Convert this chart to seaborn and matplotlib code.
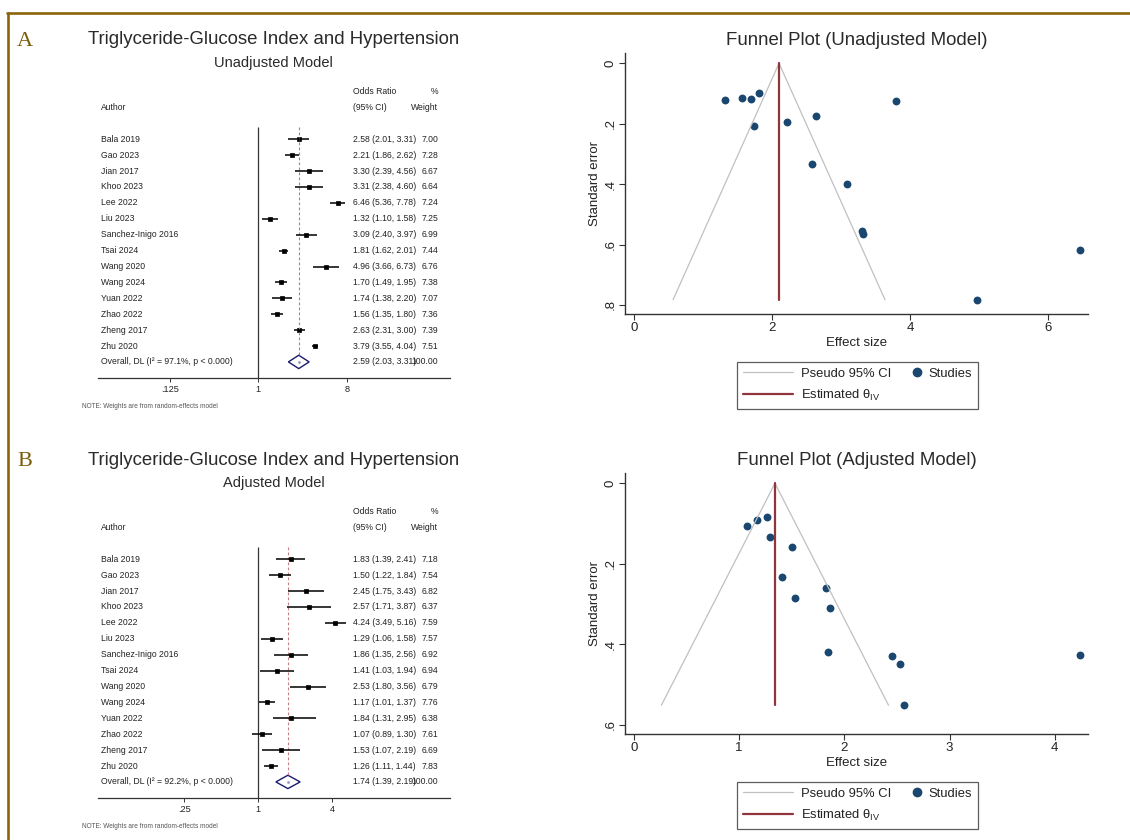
import matplotlib
matplotlib.use("Agg")
import matplotlib.pyplot as plt
import matplotlib.transforms as mtransforms
from matplotlib.lines import Line2D
from matplotlib.legend_handler import HandlerLine2D
import seaborn as sns
import pandas as pd

# study data
authors = ["Bala 2019", "Gao 2023", "Jian 2017", "Khoo 2023", "Lee 2022", "Liu 2023",
           "Sanchez-Inigo 2016", "Tsai 2024", "Wang 2020", "Wang 2024", "Yuan 2022",
           "Zhao 2022", "Zheng 2017", "Zhu 2020"]

unadj_or = [2.58, 2.21, 3.30, 3.31, 6.46, 1.32, 3.09, 1.81, 4.96, 1.70, 1.74, 1.56, 2.63, 3.79]
unadj_lo = [2.01, 1.86, 2.39, 2.38, 5.36, 1.10, 2.40, 1.62, 3.66, 1.49, 1.38, 1.35, 2.31, 3.55]
unadj_hi = [3.31, 2.62, 4.56, 4.60, 7.78, 1.58, 3.97, 2.01, 6.73, 1.95, 2.20, 1.80, 3.00, 4.04]
unadj_wt = [7.00, 7.28, 6.67, 6.64, 7.24, 7.25, 6.99, 7.44, 6.76, 7.38, 7.07, 7.36, 7.39, 7.51]
unadj_se = [0.332, 0.194, 0.554, 0.566, 0.617, 0.122, 0.401, 0.099, 0.783, 0.117, 0.209, 0.115, 0.176, 0.125]
unadj_overall = [2.59, 2.03, 3.31]
unadj_i2 = 97.1
unadj_theta_iv = 2.10

adj_or = [1.83, 1.50, 2.45, 2.57, 4.24, 1.29, 1.86, 1.41, 2.53, 1.17, 1.84, 1.07, 1.53, 1.26]
adj_lo = [1.39, 1.22, 1.75, 1.71, 3.49, 1.06, 1.35, 1.03, 1.80, 1.01, 1.31, 0.89, 1.07, 1.11]
adj_hi = [2.41, 1.84, 3.43, 3.87, 5.16, 1.58, 2.56, 1.94, 3.56, 1.37, 2.95, 1.30, 2.19, 1.44]
adj_wt = [7.18, 7.54, 6.82, 6.37, 7.59, 7.57, 6.92, 6.94, 6.79, 7.76, 6.38, 7.61, 6.69, 7.83]
adj_se = [0.260, 0.158, 0.429, 0.551, 0.426, 0.133, 0.309, 0.232, 0.449, 0.092, 0.418, 0.105, 0.286, 0.084]
adj_overall = [1.74, 1.39, 2.19]
adj_i2 = 92.2
adj_theta_iv = 1.34

overall_wt = "100.00"

forest_ticks_a = [0.125, 1, 8]
forest_ticklabels_a = [".125", "1", "8"]
forest_ticks_b = [0.25, 1, 4]
forest_ticklabels_b = [".25", "1", "4"]

sns.set_theme(style="white")
plt.rcParams['font.family'] = ['Liberation Sans', 'DejaVu Sans']
plt.rcParams['mathtext.fontset'] = 'custom'
plt.rcParams['mathtext.rm'] = 'Liberation Sans'
plt.rcParams['mathtext.it'] = 'Liberation Sans:italic'

W, H = 1130, 840
fig = plt.figure(figsize=(W / 100, H / 100), dpi=100)
fig.patch.set_facecolor("white")

GOLD = "#8B6508"
TXT = "#222222"
NAVY = "#1a476f"
MAROON = "#90353b"


class RightMarkerHandler(HandlerLine2D):
    # put the marker near the right end of the handle box (Stata style legend)
    def get_xdata(self, legend, xdescent, ydescent, width, height, fontsize):
        m = -xdescent + width - 0.3 * fontsize
        return [m - 1, m + 1], [m]


def px_axes(l, t, r, b):
    return fig.add_axes([l / W, 1 - b / H, (r - l) / W, (b - t) / H])


def ftext(x, y, s, **kw):
    fig.text(x / W, 1 - y / H, s, **kw)


def draw_forest(top, title, subtitle, ors, los, his, wts, overall, i2,
                ticks, ticklabels, log2_lim, dash_color):
    ax = px_axes(97.7, top + 83, 450, top + 378.3)
    ax.set_xscale("log", base=2)
    ax.patch.set_alpha(0)
    for s in ["top", "left", "right"]:
        ax.spines[s].set_visible(False)
    ax.spines["bottom"].set_color("#333333")
    ax.spines["bottom"].set_linewidth(0.9)

    rows = list(range(len(authors)))
    df = pd.DataFrame({"row": rows, "or": ors, "lo": los, "hi": his})

    # null line and overall dashed line
    ax.vlines(1, -0.79, 15.03, color="#333333", lw=0.9)
    ax.vlines(overall[0], -0.79, len(rows) - 0.42, color=dash_color, lw=0.8,
              linestyles=(0, (2.5, 2)))

    ax.hlines(df["row"], df["lo"], df["hi"], color="black", lw=1.1)
    sns.scatterplot(data=df, x="or", y="row", ax=ax, marker="s", s=8, color="black",
                    edgecolor="black", linewidth=0.5, legend=False)
    ax.set_xlabel("")
    ax.set_ylabel("")

    # overall diamond
    yo = len(rows)
    ax.fill([overall[1], overall[0], overall[2], overall[0], overall[1]],
            [yo, yo - 0.42, yo, yo + 0.42, yo], facecolor="white", edgecolor="#1a1a6e", lw=1.0)
    ax.plot([overall[0]], [yo], marker="o", ms=1.0, color="#9999bb")

    ax.set_xlim(2 ** log2_lim[0], 2 ** log2_lim[1])
    ax.set_ylim(15.03, -3.54)
    ax.set_yticks([])
    ax.set_xticks(ticks)
    ax.set_xticklabels(ticklabels)
    ax.minorticks_off()
    ax.tick_params(axis="x", which="both", bottom=True, direction="out", length=3,
                   width=0.7, color="#333333", labelsize=6.6, labelcolor=TXT, pad=2)

    tr = mtransforms.blended_transform_factory(ax.transAxes, ax.transData)
    fs = 6.2
    ax.text(0.0085, -2, "Author", transform=tr, fontsize=fs, color=TXT, va="center")
    ax.text(0.7255, -3, "Odds Ratio", transform=tr, fontsize=fs, color=TXT, va="center")
    ax.text(0.7255, -2, "(95% CI)", transform=tr, fontsize=fs, color=TXT, va="center")
    ax.text(0.966, -3, "%", transform=tr, fontsize=fs, color=TXT, va="center", ha="right")
    ax.text(0.966, -2, "Weight", transform=tr, fontsize=fs, color=TXT, va="center", ha="right")
    for i in rows:
        ax.text(0.0085, i, authors[i], transform=tr, fontsize=fs, color=TXT, va="center")
        ax.text(0.7255, i, f"{ors[i]:.2f} ({los[i]:.2f}, {his[i]:.2f})", transform=tr,
                fontsize=fs, color=TXT, va="center")
        ax.text(0.966, i, f"{wts[i]:.2f}", transform=tr, fontsize=fs, color=TXT,
                va="center", ha="right")
    ax.text(0.0085, yo, f"Overall, DL (I\u00b2 = {i2:.1f}%, p < 0.000)", transform=tr,
            fontsize=fs, color=TXT, va="center")
    ax.text(0.7255, yo, f"{overall[0]:.2f} ({overall[1]:.2f}, {overall[2]:.2f})", transform=tr,
            fontsize=fs, color=TXT, va="center")
    ax.text(0.966, yo, overall_wt, transform=tr,
            fontsize=fs, color=TXT, va="center", ha="right")

    ftext(273.8, top + 40, title, fontsize=13.4, color="#2a2a2a", ha="center", va="center")
    ftext(273.8, top + 63.3, subtitle, fontsize=10.5, color="#2a2a2a", ha="center", va="center")
    ftext(81.7, top + 406, "NOTE: Weights are from random-effects model", fontsize=4.7,
          color="#555555", ha="left", va="center")
    return ax


def draw_funnel(top, title, ors, ses, theta, xlim, ylim, yticks, yticklabels, xticks):
    ax = px_axes(625, top + 53.3, 1088, top + 314)
    semax = max(ses)
    ci_line, = ax.plot([theta - 1.96 * semax, theta, theta + 1.96 * semax], [semax, 0, semax],
                       color="#c0c0c0", lw=0.9)
    est_line, = ax.plot([theta, theta], [0, semax], color=MAROON, lw=1.6)
    df = pd.DataFrame({"es": ors, "se": ses})
    sns.scatterplot(data=df, x="es", y="se", ax=ax, color=NAVY, s=32, edgecolor=NAVY,
                    linewidth=0, legend=False)
    ax.set_xlim(*xlim)
    ax.set_ylim(*ylim)
    for s in ["top", "right"]:
        ax.spines[s].set_visible(False)
    for s in ["left", "bottom"]:
        ax.spines[s].set_color("#333333")
        ax.spines[s].set_linewidth(1.0)
    ax.set_xticks(xticks)
    ax.set_xticklabels([str(t) for t in xticks])
    ax.set_yticks(yticks)
    ax.set_yticklabels(yticklabels, rotation=90, va="center")
    ax.tick_params(axis="both", direction="out", length=4, width=0.8, color="#333333",
                   labelsize=9.5, labelcolor=TXT, left=True, bottom=True)
    ax.tick_params(axis="x", pad=2)
    ax.tick_params(axis="y", pad=2)
    ax.set_xlabel("Effect size", fontsize=9.5, color=TXT)
    ax.set_ylabel("Standard error", fontsize=9.5, color=TXT)
    ax.xaxis.set_label_coords(0.5, -0.088)
    ax.yaxis.set_label_coords(-0.052, 0.5)
    ax.set_title(title, fontsize=13.4, color="#2a2a2a", pad=6)

    dot = Line2D([], [], ls="none", marker="o", ms=6, color=NAVY)
    leg = fig.legend([ci_line, est_line, dot],
                     ["Pseudo 95% CI", "Estimated \u03b8$_{\\mathrm{IV}}$", "Studies"],
                     handler_map={dot: RightMarkerHandler(numpoints=1)},
                     loc="upper center", bbox_to_anchor=(857.4 / W, 1 - (top + 361.7) / H),
                     borderaxespad=0, ncol=2, fontsize=9.4, frameon=True, fancybox=False,
                     edgecolor="#333333", handlelength=3.83, labelspacing=0.6,
                     columnspacing=-1.53, borderpad=0.45, handletextpad=0.6)
    leg.get_frame().set_linewidth(0.9)
    for t in leg.get_texts():
        t.set_color(TXT)
    return ax


draw_forest(0, "Triglyceride-Glucose Index and Hypertension", "Unadjusted Model",
            unadj_or, unadj_lo, unadj_hi, unadj_wt, unadj_overall, unadj_i2,
            forest_ticks_a, forest_ticklabels_a, (-5.455, 6.51), "#8c8c8c")
draw_forest(420, "Triglyceride-Glucose Index and Hypertension", "Adjusted Model",
            adj_or, adj_lo, adj_hi, adj_wt, adj_overall, adj_i2,
            forest_ticks_b, forest_ticklabels_b, (-4.34, 5.18), "#c77f86")

draw_funnel(0, "Funnel Plot (Unadjusted Model)", unadj_or, unadj_se, unadj_theta_iv,
            (-0.130, 6.573), (0.830, -0.033), [0, 0.2, 0.4, 0.6, 0.8],
            ["0", ".2", ".4", ".6", ".8"], [0, 2, 4, 6])
draw_funnel(420, "Funnel Plot (Adjusted Model)", adj_or, adj_se, adj_theta_iv,
            (-0.086, 4.317), (0.6224, -0.0248), [0, 0.2, 0.4, 0.6],
            ["0", ".2", ".4", ".6"], [0, 1, 2, 3, 4])

# panel letters and gold frame
for y, letter in [(41, "A"), (461, "B")]:
    ftext(25, y, letter, fontsize=16, color="#7a5c0a", family="Liberation Serif",
          ha="center", va="center")
fig.add_artist(Line2D([7.5 / W, 7.5 / W], [0, 1 - 13 / H], color=GOLD, lw=1.9,
                      transform=fig.transFigure))
fig.add_artist(Line2D([6.8 / W, 1], [1 - 13 / H, 1 - 13 / H], color=GOLD, lw=1.9,
                      transform=fig.transFigure))

fig.savefig("out.png", dpi=100)
